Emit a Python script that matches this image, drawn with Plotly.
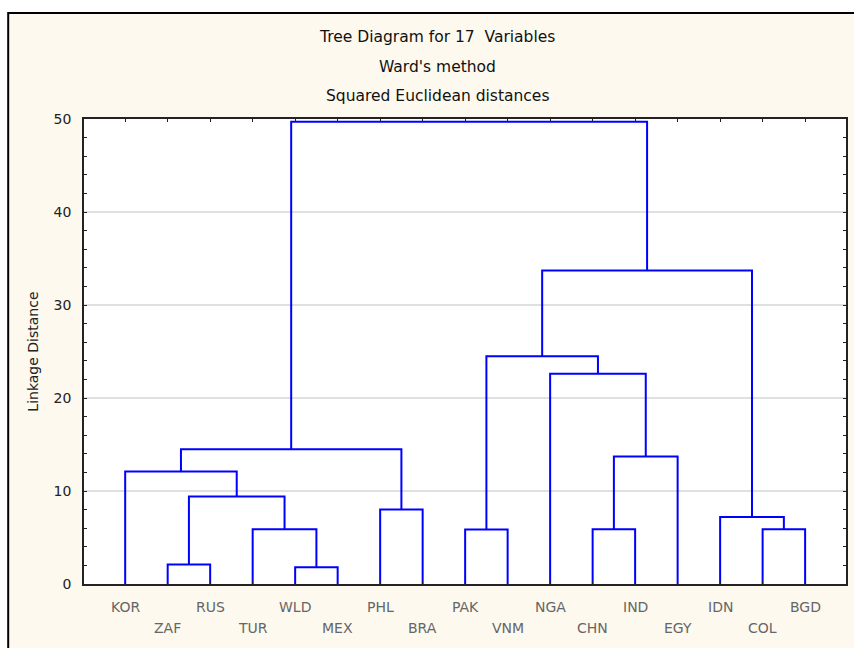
import plotly.graph_objects as go

# ---- data ----
leaves = ["KOR", "ZAF", "RUS", "TUR", "WLD", "MEX", "PHL", "BRA", "PAK",
          "VNM", "NGA", "CHN", "IND", "EGY", "IDN", "COL", "BGD"]
merge_left = ["ZAF", "WLD", "TUR", "C1", "KOR", "PHL", "C5", "PAK",
              "CHN", "C9", "NGA", "C8", "COL", "IDN", "C12", "C7"]
merge_right = ["RUS", "MEX", "C2", "C3", "C4", "BRA", "C6", "VNM",
               "IND", "EGY", "C10", "C11", "BGD", "C13", "C14", "C15"]
merge_height = [2.1, 1.8, 5.9, 9.4, 12.1, 8.0, 14.5, 5.85,
                5.9, 13.7, 22.6, 24.5, 5.9, 7.2, 33.7, 49.7]
y_ticks = [0, 10, 20, 30, 40, 50]
title_lines = ["Tree Diagram for 17  Variables", "Ward's method",
               "Squared Euclidean distances"]

# ---- build dendrogram segments via the axis scale ----
pos = {name: (float(i), 0.0) for i, name in enumerate(leaves)}
xs, ys = [], []
for k, (a, b, h) in enumerate(zip(merge_left, merge_right, merge_height)):
    xa, ha = pos[a]
    xb, hb = pos[b]
    xs += [xa, xa, xb, xb, None]
    ys += [ha, h, h, hb, None]
    pos["C%d" % (k + 1)] = ((xa + xb) / 2.0, h)

FONT = "DejaVu Sans, Verdana, sans-serif"
fig = go.Figure()
fig.add_trace(go.Scatter(x=xs, y=ys, mode="lines",
                         line=dict(color="#0000ff", width=2),
                         hoverinfo="skip", showlegend=False))

L, R, T, B = 84, 6, 119, 64
W, H = 854, 648
pw, ph = W - L - R, H - T - B

def px_x(p):
    return (p - L) / pw

def px_y(p):
    return (H - B - p) / ph

annotations = []
for i, t in enumerate(title_lines):
    annotations.append(dict(text=t, x=px_x(438), y=px_y([37, 67, 96][i]),
                            xref="paper", yref="paper", showarrow=False,
                            xanchor="center", yanchor="middle",
                            font=dict(family=FONT, size=15.5, color="#111")))
for i, name in enumerate(leaves):
    annotations.append(dict(text=name, x=i, y=px_y(607 if i % 2 == 0 else 628),
                            xref="x", yref="paper", showarrow=False,
                            xanchor="center", yanchor="middle",
                            font=dict(family=FONT, size=14, color="#666")))
annotations.append(dict(text="Linkage Distance", x=px_x(32), y=0.5,
                        xref="paper", yref="paper", showarrow=False,
                        textangle=-90, xanchor="center", yanchor="middle",
                        font=dict(family=FONT, size=14, color="#222")))

shapes = [
    dict(type="rect", xref="paper", yref="paper", layer="below",
         x0=px_x(8), x1=px_x(900), y0=px_y(700), y1=px_y(13),
         fillcolor="#fdf9ef", line=dict(color="#000", width=2)),
    dict(type="rect", xref="paper", yref="paper", layer="below",
         x0=0, x1=1, y0=0, y1=1, fillcolor="#ffffff", line=dict(width=0)),
]

fig.update_layout(
    width=W, height=H,
    margin=dict(l=L, r=R, t=T, b=B),
    paper_bgcolor="#ffffff", plot_bgcolor="#ffffff",
    annotations=annotations, shapes=shapes,
    showlegend=False,
    xaxis=dict(range=[-0.969, 16.962], tickvals=list(range(len(leaves))),
               showticklabels=False, ticks="inside", ticklen=3,
               tickcolor="#222", showgrid=False, zeroline=False,
               showline=True, linecolor="#222", linewidth=1.5, mirror="ticks"),
    yaxis=dict(range=[0, 50], tickvals=y_ticks, ticks="inside", ticklen=3,
               tickcolor="#222", showgrid=True, gridcolor="#e0e0e0",
               gridwidth=2, zeroline=False, showline=True, linecolor="#222",
               linewidth=1.5, mirror="ticks", ticklabelstandoff=8,
               tickfont=dict(family=FONT, size=14, color="#222"),
               minor=dict(dtick=2, ticks="inside", ticklen=3,
                          tickcolor="#222", showgrid=False)),
)

fig.write_html("out.html",
               config={"displayModeBar": False},
               post_script="document.body.style.margin='0';"
                           "document.body.style.padding='0';")
